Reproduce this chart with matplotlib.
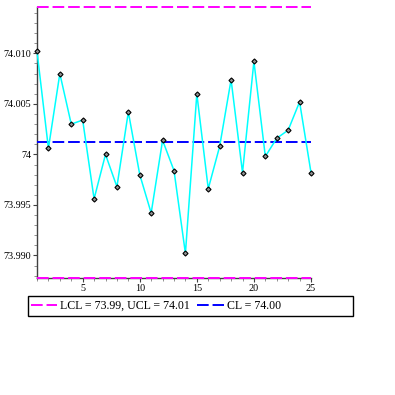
import matplotlib
matplotlib.use("Agg")
import matplotlib.pyplot as plt
from matplotlib.lines import Line2D
from matplotlib.patches import Rectangle
from matplotlib.ticker import MultipleLocator, FixedLocator, FixedFormatter

samples = list(range(1, 26))
xbar = [74.0102, 74.0006, 74.0080, 74.0030, 74.0034, 73.9956, 74.0000, 73.9968,
        74.0042, 73.9980, 73.9942, 74.0014, 73.9984, 73.9902, 74.0060, 73.9966,
        74.0008, 74.0074, 73.9982, 74.0092, 73.9998, 74.0016, 74.0024, 74.0052,
        73.9982]
CL = 74.00118
UCL = 74.01459
LCL = 73.98777
ytick_vals = [73.990, 73.995, 74.000, 74.005, 74.010]
ytick_labels = ["73.990", "73.995", "74", "74.005", "74.010"]
xtick_vals = [5, 10, 15, 20, 25]
legend_labels = ["LCL = 73.99, UCL = 74.01", "CL = 74.00"]

serif = ["Liberation Serif", "DejaVu Serif"]

fig = plt.figure(figsize=(3.95, 3.95), dpi=100)
ax = fig.add_axes([37/395, 1-278/395, (311-37)/395, (278-7)/395])

dash = (6.0, 2.0)
ax.plot([samples[0], samples[-1]], [UCL, UCL], color="#FF00FF", lw=1.4,
        dashes=dash, clip_on=False, zorder=3)
ax.plot([samples[0], samples[-1]], [LCL, LCL], color="#FF00FF", lw=1.4,
        dashes=dash, clip_on=False, zorder=3)
ax.plot([samples[0], samples[-1]], [CL, CL], color="#0000FF", lw=1.4,
        dashes=dash, clip_on=False, zorder=3)
ax.plot(samples, xbar, color="#00FFFF", lw=1.1, zorder=4, clip_on=False)
ax.plot(samples, xbar, ls="none", marker="D", ms=2.6, mec="black",
        mfc="#909090", mew=0.8, zorder=5, clip_on=False)

ax.set_xlim(1, 25)
ax.set_ylim(LCL, UCL)

for s in ["top", "right"]:
    ax.spines[s].set_visible(False)
for s in ["left", "bottom"]:
    ax.spines[s].set_color("#404040")
    ax.spines[s].set_linewidth(1.0)

ax.yaxis.set_major_locator(FixedLocator(ytick_vals))
ax.yaxis.set_major_formatter(FixedFormatter(ytick_labels))
ax.yaxis.set_minor_locator(MultipleLocator(0.001))
ax.xaxis.set_major_locator(FixedLocator(xtick_vals))
ax.xaxis.set_minor_locator(MultipleLocator(1))
ax.tick_params(which="major", length=3, width=0.8, color="#404040", pad=1,
               labelsize=7.3)
ax.tick_params(which="minor", length=2, width=0.6, color="#808080")
for lab in ax.get_xticklabels() + ax.get_yticklabels():
    lab.set_family(serif)

handles = [Line2D([], [], color="#FF00FF", lw=1.4, dashes=(6.0, 2.0)),
           Line2D([], [], color="#0000FF", lw=1.4, dashes=(6.0, 2.0))]
fig.legend(handles, legend_labels, loc="center left",
           bbox_to_anchor=(31/395, 1-306/395), ncol=2, frameon=False,
           prop={"family": serif, "size": 8.6}, handlelength=2.2,
           handletextpad=0.25, columnspacing=0.6, borderpad=0, borderaxespad=0)
fig.patches.append(Rectangle((28/395, 1-316/395), 325/395, 20/395,
                             transform=fig.transFigure, fill=False,
                             edgecolor="black", lw=1.0))

fig.savefig("out.png", dpi=100)
